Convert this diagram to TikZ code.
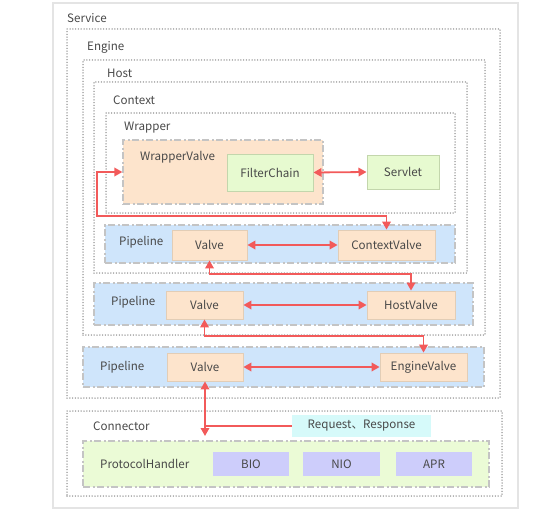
\documentclass[tikz,border=0pt]{standalone}
\usepackage{fontspec}
\setmainfont{Noto Sans CJK SC}
\usetikzlibrary{arrows.meta,fit}
\definecolor{txt}{HTML}{484848}
\definecolor{dotgray}{HTML}{8C8C8C}
\definecolor{framegray}{HTML}{E4E4E4}
\definecolor{dashgray}{HTML}{C4C4C4}
\definecolor{peach}{HTML}{FDE4CC}
\definecolor{peachline}{HTML}{E2CDB6}
\definecolor{pipeblue}{HTML}{CFE5FB}
\definecolor{lgreen}{HTML}{E7FAD0}
\definecolor{lgreenline}{HTML}{C3D6AC}
\definecolor{pgreen}{HTML}{EBFBD6}
\definecolor{lpurple}{HTML}{CDCDFB}
\definecolor{lcyan}{HTML}{D6FAFA}
\definecolor{redarr}{HTML}{F25A5A}
\begin{document}
\begin{tikzpicture}[x=1pt,y=-1pt,
  font=\fontsize{11.6}{13}\selectfont, text=txt,
  frame/.style={draw=framegray, line width=1.5pt, inner sep=0pt},
  dotbox/.style={draw=dotgray, line width=1.5pt, dash pattern=on 0pt off 2.8pt, line cap=round, inner sep=0pt},
  dashdot/.style={draw=dashgray, line width=1.2pt, dash pattern=on 7pt off 2.5pt on 2pt off 2.5pt, inner sep=0pt},
  pipebox/.style={dashdot, fill=pipeblue},
  wvbox/.style={dashdot, fill=peach},
  phbox/.style={dashdot, fill=pgreen},
  valvebox/.style={draw=peachline, line width=0.8pt, fill=peach, inner sep=0pt},
  greenbox/.style={draw=lgreenline, line width=1pt, fill=lgreen, inner sep=0pt},
  iobox/.style={fill=lpurple, inner sep=0pt},
  reqbox/.style={fill=lcyan, inner sep=0pt},
  lbl/.style={anchor=west, inner sep=0pt},
  redline/.style={draw=redarr, line width=1.8pt},
  dbl/.style={redline, {Triangle[length=8pt,width=8.5pt]}-{Triangle[length=8pt,width=8.5pt]}},
]
\useasboundingbox (0,0) rectangle (548,516);

% containers
\node[frame, fit={(53,3) (518,508)}] (service) {};
\node[lbl] (serviceL) at (67,18) {Service};
\node[dotbox, fit={(67,29) (500,398)}] (engine) {};
\node[lbl] (engineL) at (87,47) {Engine};
\node[dotbox, fit={(83,60) (485,335)}] (host) {};
\node[lbl] (hostL) at (107,73) {Host};
\node[dotbox, fit={(94,82) (467,273)}] (context) {};
\node[lbl] (contextL) at (113,100) {Context};
\node[dotbox, fit={(106,113) (455,213)}] (wrapper) {};
\node[lbl] (wrapperL) at (124,128) {Wrapper};

% wrapper content
\node[wvbox, fit={(123,140) (323,204)}] (wv) {};
\node[lbl] (wvL) at (140,157) {WrapperValve};
\node[greenbox, fit={(227,154) (313,191)}] (fc) {};
\node (fcT) at (fc.center) {FilterChain};
\node[greenbox, fit={(367,155) (439,189)}] (sv) {};
\node (svT) at (sv.center) {Servlet};

% context pipeline
\node[pipebox, fit={(105,225) (455,263)}] (cp) {};
\node[lbl] (cpL) at (119,242) {Pipeline};
\node[valvebox, fit={(172,230) (247,260)}] (cvalve) {};
\node (cvalveT) at (cvalve.center) {Valve};
\node[valvebox, fit={(338,230) (435,260)}] (cv) {};
\node (cvT) at (cv.center) {ContextValve};

% host pipeline
\node[pipebox, fit={(94,283) (473,325)}] (hp) {};
\node[lbl] (hpL) at (111,302) {Pipeline};
\node[valvebox, fit={(166,291) (243,319)}] (hvalve) {};
\node (hvalveT) at (hvalve.center) {Valve};
\node[valvebox, fit={(367,291) (455,319)}] (hv) {};
\node (hvT) at (hv.center) {HostValve};

% engine pipeline
\node[pipebox, fit={(83,347) (484,387)}] (ep) {};
\node[lbl] (epL) at (100,367) {Pipeline};
\node[valvebox, fit={(167,353) (243,381)}] (engvalve) {};
\node (engvalveT) at (engvalve.center) {Valve};
\node[valvebox, fit={(380,353) (467,381)}] (ev) {};
\node (evT) at (ev.center) {EngineValve};

% connector
\node[dotbox, fit={(67,411) (502,496)}] (conn) {};
\node[lbl] (connL) at (93,426) {Connector};
\node[reqbox, fit={(292,415) (431,437)}] (req) {};
\node (reqT) at (req.center) {Request、Response};
\node[phbox, fit={(83,441) (489,487)}] (ph) {};
\node[lbl] (phL) at (100,464) {ProtocolHandler};
\node[iobox, fit={(213,452) (289,476)}] (bio) {};
\node (bioT) at (bio.center) {BIO};
\node[iobox, fit={(303,452) (380,476)}] (nio) {};
\node (nioT) at (nio.center) {NIO};
\node[iobox, fit={(396,452) (472,476)}] (apr) {};
\node (aprT) at (apr.center) {APR};

% connectors
\coordinate (j1) at (97,216);
\coordinate (j2) at (300,274);
\coordinate (j3) at (300,336);
\coordinate (j4) at (205,436);
\draw[dbl] (fc.east) -- (sv.west);
\draw[dbl] (wv.west) -| (j1) -| (cv.north);
\draw[dbl] (cvalve.east) -- (cv.west);
\draw[dbl] (cvalve.south) |- (j2) -| (hv.north);
\draw[dbl] (hvalve.east) -- (hv.west);
\draw[dbl] (hvalve.south) |- (j3) -| (ev.north);
\draw[dbl] (engvalve.east) -- (ev.west);
\draw[dbl] (engvalve.south) -- (engvalve.south |- j4);
\draw[redline] (req.west) -- (req.west -| engvalve.south);
\end{tikzpicture}
\end{document}
